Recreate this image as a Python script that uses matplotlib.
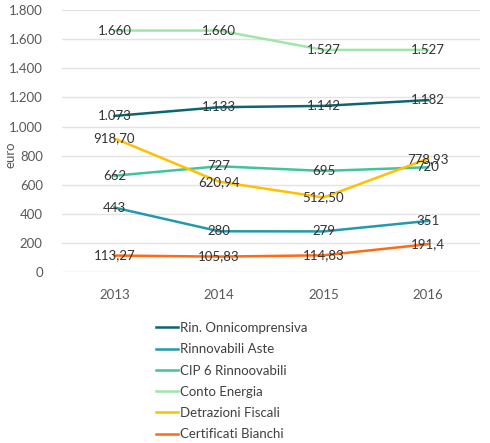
import numpy as np
import matplotlib
matplotlib.use('Agg')
import matplotlib.pyplot as plt
from matplotlib.ticker import FuncFormatter

matplotlib.rc('font', family='Lato')

years = ['2013', '2014', '2015', '2016']
series_names = ['Rin. Onnicomprensiva', 'Rinnovabili Aste', 'CIP 6 Rinnoovabili',
                'Conto Energia', 'Detrazioni Fiscali', 'Certificati Bianchi']
rin_onni = [1073, 1133, 1142, 1182]
rinn_aste = [443, 280, 279, 351]
cip6 = [662, 727, 695, 720]
conto_energia = [1660, 1660, 1527, 1527]
detrazioni = [918.70, 620.94, 512.50, 778.93]
cert_bianchi = [113.27, 105.83, 114.83, 191.4]
point_labels = [
  ['1.073', '1.133', '1.142', '1.182'],
  ['443', '280', '279', '351'],
  ['662', '727', '695', '720'],
  ['1.660', '1.660', '1.527', '1.527'],
  ['918,70', '620,94', '512,50', '778,93'],
  ['113,27', '105,83', '114,83', '191,4'],
]
colors = ['#0b6670', '#2399ad', '#3fc49b', '#9fe6a8', '#ffc000', '#ff6a14']

def main():
  fig = plt.figure(figsize=(4.9, 4.43), dpi=100)
  ax = fig.add_axes([0.127, 0.386, 0.853, 0.591])
  x = np.arange(len(years))
  data = [rin_onni, rinn_aste, cip6, conto_energia, detrazioni, cert_bianchi]
  for vals, labs, name, c in zip(data, point_labels, series_names, colors):
    ax.plot(x, vals, color=c, lw=1.8, label=name, zorder=3)
    for xi, v, t in zip(x, vals, labs):
      ax.text(xi, v, t, ha='center', va='center', fontsize=9.5, color='#333333', zorder=4)

  ax.set_xlim(-0.5, 3.5)
  ax.set_ylim(0, 1800)
  ax.set_yticks(np.arange(0, 1801, 200))
  ax.yaxis.set_major_formatter(FuncFormatter(lambda v, p: '{:,.0f}'.format(v).replace(',', '.')))
  ax.set_xticks(x)
  ax.set_xticklabels(years)
  ax.tick_params(length=0, labelsize=9.5, colors='#595959', pad=12)
  ax.tick_params(axis='y', pad=14)
  ax.grid(axis='y', color='#e3e3e3', lw=1, zorder=0)
  for s in ax.spines.values():
    s.set_visible(False)
  fig.text(0.022, 0.65, 'euro', rotation=90, ha='center', va='center', fontsize=9.5, color='#595959')

  fig.legend(loc='upper left', bbox_to_anchor=(0.318, 0.273), ncol=1, fontsize=9.5,
             frameon=False, handlelength=1.7, handletextpad=0.15, labelspacing=0.7,
             labelcolor='#404040', borderaxespad=0, borderpad=0)
  fig.savefig('out.png', dpi=100)

if __name__ == '__main__':
  main()
